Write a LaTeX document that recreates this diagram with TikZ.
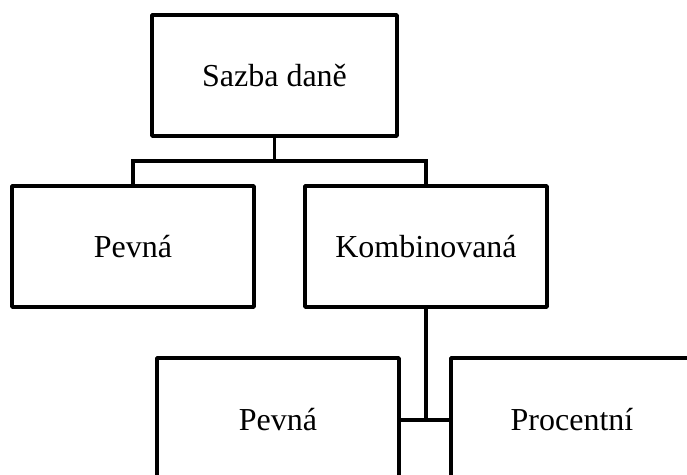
\documentclass[tikz,border=0pt]{standalone}
\usepackage{fontspec}
\setmainfont{Liberation Serif}
\begin{document}
\begin{tikzpicture}[x=1pt,y=-1pt,
  boxnode/.style={draw=black, line width=3.6pt, line join=round, rectangle, inner sep=0pt,
    minimum width=242pt, minimum height=121pt, font=\fontsize{32}{38}\selectfont, text=black},
  conn/.style={draw=black, line width=3.6pt}]
\useasboundingbox (0,0) rectangle (687,474);
\clip (0,0) rectangle (687,474);
\node[boxnode, minimum width=245pt] (top) at (274.5,75.5) {Sazba daně};
\node[boxnode] (p1) at (133,246.5) {Pevná};
\node[boxnode] (k) at (426,246.5) {Kombinovaná};
\node[boxnode, minimum height=124pt] (p2) at (278,420) {Pevná};
\node[boxnode, minimum height=124pt] (pr) at (572,420) {Procentní};
\coordinate (bus) at (274.5,161);
\draw[conn] (top.south) -- (bus);
\draw[conn] (bus) -| (p1.north);
\draw[conn] (bus) -| (k.north);
\draw[conn] (p2.east) -- (pr.west);
\draw[conn] (k.south) -- (k.south |- p2.east);
\end{tikzpicture}
\end{document}
